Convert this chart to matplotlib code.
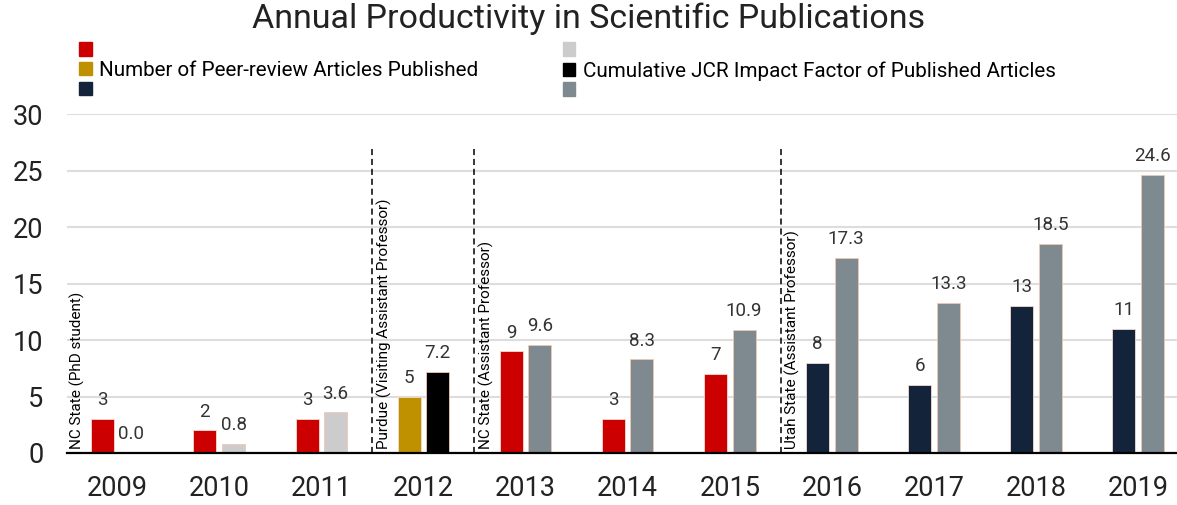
import numpy as np
import matplotlib.pyplot as plt
from matplotlib.patches import Patch

plt.rcParams['font.family'] = ['Roboto', 'DejaVu Sans']

# data
years = ['2009', '2010', '2011', '2012', '2013', '2014', '2015', '2016', '2017', '2018', '2019']
articles = [3, 2, 3, 5, 9, 3, 7, 8, 6, 13, 11]
impact = [0.0, 0.8, 3.6, 7.2, 9.6, 8.3, 10.9, 17.3, 13.3, 18.5, 24.6]

# colours per year (career stage)
art_colors = ['#cc0000'] * 3 + ['#bf9000'] + ['#cc0000'] * 3 + ['#13243a'] * 4
imp_colors = ['#cccccc'] * 3 + ['#000000'] + ['#7f8990'] * 7

# career stage separators and labels
stage_pos = [-0.5, 2.5, 3.5, 6.5]
stage_labels = ['NC State (PhD student)', 'Purdue (Visiting Assistant Professor)',
                'NC State (Assistant Professor)', 'Utah State (Assistant Professor)']

fig = plt.figure(figsize=(11.77, 5.05), dpi=100)
ax = fig.add_axes([0.057, 0.103, 0.943, 0.671])

x = np.arange(len(years))
w = 0.225
off = 0.14
b1 = ax.bar(x - off, articles, w, color=art_colors, edgecolor='#f3dcd0', linewidth=0.6, zorder=3)
b2 = ax.bar(x + off, impact, w, color=imp_colors, edgecolor='#f0c8b0', linewidth=0.6, zorder=3)

for rect, v in zip(b1, articles):
    ax.annotate(f'{v}', (rect.get_x() + rect.get_width() / 2, v), xytext=(0, 7),
                textcoords='offset points', ha='center', va='bottom', fontsize=13.5, color='#333333')
for rect, v in zip(b2, impact):
    ax.annotate(f'{v:.1f}', (rect.get_x() + rect.get_width() / 2, v), xytext=(0, 7),
                textcoords='offset points', ha='center', va='bottom', fontsize=13.5, color='#333333')

# dashed separators + rotated stage names
for p, lab in zip(stage_pos, stage_labels):
    if p > 0:
        ax.plot([p, p], [0, 27], ls=(0, (4, 2.5)), color='black', lw=1.1, zorder=4)
    ax.text(p + 0.04, 0.35, lab, rotation=90, ha='left', va='bottom', fontsize=11, color='black')

ax.set_xlim(-0.49, 10.38)
ax.set_ylim(0, 30)
ax.set_yticks([0, 5, 10, 15, 20, 25, 30])
ax.set_xticks(x)
ax.set_xticklabels(years)
ax.tick_params(axis='both', length=0, labelsize=19.5, colors='#222222')
ax.tick_params(axis='y', pad=17)
ax.tick_params(axis='x', pad=16)
ax.grid(axis='y', color='#dddddd', lw=1.5, zorder=0)
for s in ['top', 'right', 'left']:
    ax.spines[s].set_visible(False)
ax.spines['bottom'].set_linewidth(1.6)
ax.spines['bottom'].set_zorder(5)

fig.suptitle('Annual Productivity in Scientific Publications', fontsize=24.5, y=0.995, color='#222222')

handles = [Patch(color=c) for c in ['#cc0000', '#bf9000', '#13243a', '#cccccc', '#000000', '#7f8990']]
labels = ['', 'Number of Peer-review Articles Published', '',
          '', 'Cumulative JCR Impact Factor of Published Articles', '']
fig.legend(handles, labels, ncol=2, loc='upper left', bbox_to_anchor=(0.067, 0.918),
           frameon=False, fontsize=14.9, handlelength=0.62, handleheight=0.62,
           handletextpad=0.35, labelspacing=0.03, columnspacing=4.08, borderpad=0,
           borderaxespad=0)

fig.savefig('out.png', dpi=100)
